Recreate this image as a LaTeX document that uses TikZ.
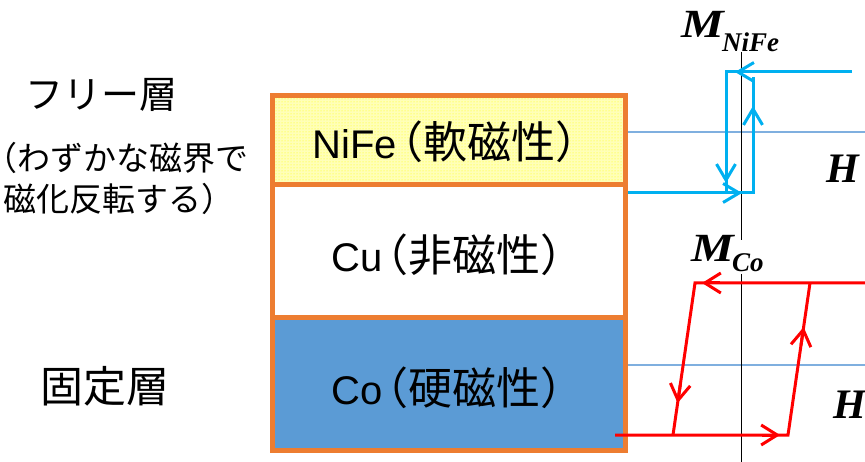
\documentclass[tikz,border=0pt]{standalone}
\usepackage{fontspec}
\setmainfont{Liberation Sans}
\newfontfamily\jp{Noto Sans CJK JP}
\newfontfamily\jphalt[RawFeature=+halt]{Noto Sans CJK JP}
\newfontfamily\tnr{Liberation Serif}
\usetikzlibrary{arrows.meta,patterns,calc}
\definecolor{boxorange}{HTML}{ED7D31}
\definecolor{coblue}{HTML}{5B9BD5}
\definecolor{axisblue}{HTML}{7FAFDF}
\definecolor{nifecyan}{HTML}{00B0F0}
\definecolor{cored}{HTML}{FF0000}
\definecolor{niyellow}{HTML}{FFFFB8}
\newcommand{\jpbig}{\jp\fontsize{44}{48}\selectfont}
\newcommand{\hl}{{\jphalt （}}
\newcommand{\hr}{{\jphalt ）}}
\tikzset{
  layerbox/.style={draw=boxorange, line width=5pt},
  boxtext/.style={font=\fontsize{40}{46}\selectfont, inner sep=0pt},
  sidelabel/.style={font=\jp\fontsize{38}{42}\selectfont, inner sep=0pt},
  fixedlabel/.style={font=\jp\fontsize{43}{46}\selectfont, inner sep=0pt},
  smalllabel/.style={font=\jp\fontsize{33}{36}\selectfont, inner sep=0pt},
  maglabel/.style={font=\tnr\bfseries\itshape\fontsize{40}{42}\selectfont, inner sep=0pt, anchor=base west, xscale=1.2},
  sublabel/.style={font=\tnr\bfseries\itshape\fontsize{27}{30}\selectfont, inner sep=0pt, anchor=base west},
  hlabel/.style={font=\tnr\bfseries\itshape\fontsize{42}{44}\selectfont, inner sep=0pt, anchor=base west},
  vaxis/.style={draw=black, line width=0.8pt},
  haxis/.style={draw=axisblue, line width=1.2pt},
  niloop/.style={draw=nifecyan, line width=3pt},
  coloop/.style={draw=cored, line width=3pt},
  chevni/.style={draw=nifecyan, line width=3pt, -{Straight Barb[length=16pt,width=19pt,line width=3pt]}},
  chevco/.style={draw=cored, line width=3pt, -{Straight Barb[length=16pt,width=20pt,line width=3pt]}},
}
\begin{document}
\begin{tikzpicture}[x=1pt,y=-1pt]
\useasboundingbox (0,0) rectangle (865,462);
% layer stack
\fill[niyellow] (272,95) rectangle (626,185);
\fill[pattern=dots, pattern color=yellow] (272,95) rectangle (626,185);
\fill[white] (272,185) rectangle (626,318);
\fill[coblue] (272,318) rectangle (626,450);
\draw[layerbox] (272.5,95.5) rectangle (625.5,450);
\draw[layerbox] (272.5,184.5) -- (625.5,184.5);
\draw[layerbox] (272.5,317.5) -- (625.5,317.5);
\node[boxtext] (nife) at (445,142) {NiFe{\jpbig\kern4pt\hl 軟磁性\hr}};
\node[boxtext] (cu) at (447,255) {Cu{\jpbig\kern4pt\hl 非磁性\hr}};
\node[boxtext] (co) at (447,388) {Co{\jpbig\kern4pt\hl 硬磁性\hr}};
% left labels
\node[sidelabel] (free) at (101,95) {フリー層};
\node[smalllabel, anchor=west] (note1) at (1,158) {\hl わずかな磁界で};
\node[smalllabel, anchor=west] (note2) at (3,199) {磁化反転する\hr};
\node[fixedlabel] (fixed) at (105,386) {固定層};
% axes
\draw[haxis] (628,132) -- (865,132);
\draw[haxis] (628,365) -- (865,365);
\draw[vaxis] (741,52) -- (741,240);
\draw[vaxis] (741,274) -- (741,462);
% NiFe loop
\coordinate (nbl) at (628,193);
\coordinate (nbr) at (753,193);
\coordinate (ntr) at (753,77);
\coordinate (ntl) at (726,72);
\coordinate (nte) at (852,72);
\coordinate (nlb) at (726,193);
\draw[niloop] (nbl) -- (nbr) -- (ntr);
\draw[niloop] (nte) -- (ntl) -- (nlb);
\draw[chevni] (752,72) -- (735,72);
\draw[chevni] (753,125) -- (753,106);
\draw[chevni] (726,165) -- (726,183);
\draw[chevni] (725,193) -- (742,193);
% Co loop
\coordinate (cbl) at (615,435);
\coordinate (cbr) at (788,435);
\coordinate (ctr) at (810,283);
\coordinate (ctl) at (695,283);
\coordinate (cte) at (866,283);
\coordinate (clb) at (673,435);
\draw[coloop] (cbl) -- (cbr) -- (ctr);
\draw[coloop] (cte) -- (ctl) -- (clb);
\draw[chevco] (720,283) -- (702,283);
\draw[chevco] ($(ctl)!0.67!(clb)$) -- ($(ctl)!0.79!(clb)$);
\draw[chevco] (762,435) -- (780,435);
\draw[chevco] ($(cbr)!0.59!(ctr)$) -- ($(cbr)!0.71!(ctr)$);
% magnetisation labels
\node[maglabel] (mni) at (681,38) {M};
\node[sublabel] (mnisub) at (722,52) {NiFe};
\node[hlabel] (hni) at (826,183) {H};
\node[maglabel] (mco) at (691,262) {M};
\node[sublabel] (mcosub) at (732,272) {Co};
\node[hlabel] (hco) at (833,418) {H};
\end{tikzpicture}
\end{document}
